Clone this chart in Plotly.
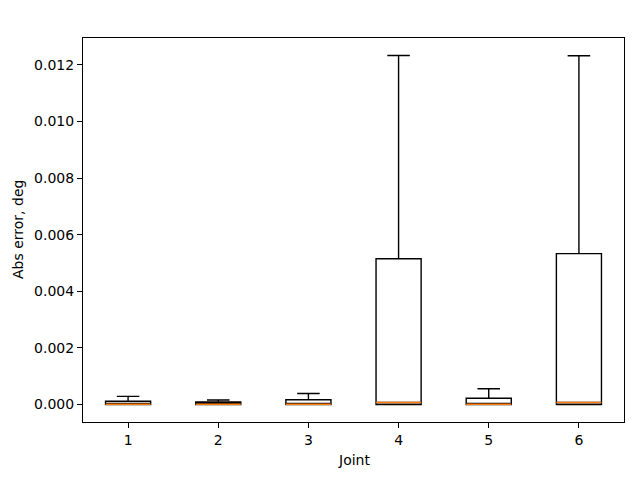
import plotly.graph_objects as go

joints = [1, 2, 3, 4, 5, 6]
q1 = [0.0, 0.0, 0.0, 0.0, 0.0, 0.0]
median = [0.00001, 0.00001, 0.00001, 0.00007, 0.00001, 0.00007]
q3 = [0.000116, 0.00009, 0.00017, 0.00515, 0.00022, 0.00533]
lower = [0.0, 0.0, 0.0, 0.0, 0.0, 0.0]
upper = [0.00029, 0.00016, 0.00039, 0.01233, 0.00056, 0.01232]

box_w = 0.5
fig = go.Figure()
fig.add_trace(go.Box(
    x=joints, q1=q1, median=median, q3=q3,
    lowerfence=lower, upperfence=upper,
    width=box_w, whiskerwidth=0.5,
    fillcolor="white", line=dict(color="black", width=1.4),
    boxpoints=False, hoverinfo="skip", showlegend=False,
))

# orange median lines like matplotlib
for j, m in zip(joints, median):
    fig.add_trace(go.Scatter(
        x=[j - box_w / 2, j + box_w / 2], y=[m, m], mode="lines",
        line=dict(color="#ff7f0e", width=1.4),
        hoverinfo="skip", showlegend=False,
    ))

lo, hi = min(lower), max(upper)
pad = (hi - lo) * 0.05

axis_style = dict(
    showline=True, linecolor="black", linewidth=1, mirror=True,
    ticks="outside", ticklen=5, tickcolor="black", showgrid=False,
    zeroline=False, automargin=False, tickfont=dict(size=14, color="black"),
)
fig.update_xaxes(range=[0.5, 6.5], tickvals=joints, **axis_style)
fig.update_yaxes(range=[lo - pad, hi + pad], dtick=0.002, tick0=0, tickformat=".3f",
                 **axis_style)

# axis titles as annotations so they sit where matplotlib puts them
fig.add_annotation(text="Joint", xref="paper", yref="paper", x=0.5, y=0,
                   xanchor="center", yanchor="top", yshift=-28, showarrow=False,
                   font=dict(size=14, color="black"))
fig.add_annotation(text="Abs error, deg", xref="paper", yref="paper", x=0, y=0.5,
                   xanchor="right", yanchor="middle", xshift=-55, textangle=-90,
                   showarrow=False, font=dict(size=14, color="black"))

# page body has an 8px margin, so the figure is a bit smaller than the window
fig.update_layout(
    width=632, height=472,
    margin=dict(l=75, r=16, t=30, b=58),
    plot_bgcolor="white", paper_bgcolor="white",
    font=dict(family="DejaVu Sans", color="black"),
)
fig.write_html("out.html")
